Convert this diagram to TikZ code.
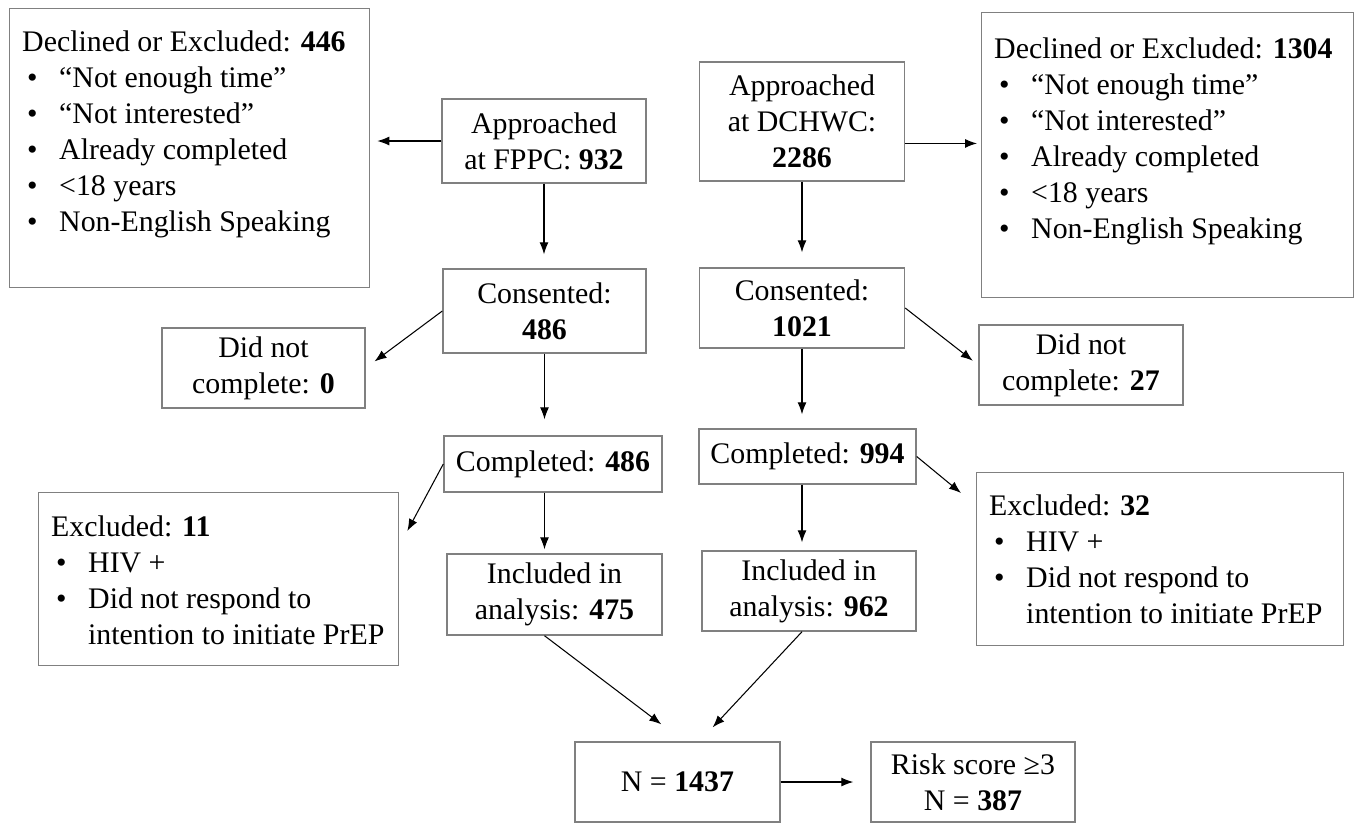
\documentclass[tikz,border=0pt]{standalone}
\usepackage{fontspec}
\setmainfont{Liberation Serif}
\usepackage{tikz}
\usetikzlibrary{arrows.meta, positioning}
\newcommand{\bitem}[1]{\makebox[0.74cm][l]{\hspace{0.1cm}\textbullet}#1}

\begin{document}
\begin{tikzpicture}[
      x=0.02cm, y=-0.02cm,
      box/.style={draw=black!50, line width=0.8pt, align=center, inner sep=0pt,
                  font=\fontsize{17}{20.5}\selectfont},
      dims/.style 2 args={minimum width=#1*0.02cm, minimum height=#2*0.02cm},
      listbox/.style={box, anchor=north west, align=left, inner xsep=0.25cm, inner ysep=0pt},
      arr/.style={-{Latex[length=0.24cm, width=0.18cm]}, line width=0.6pt}
    ]
    \useasboundingbox (0,0) rectangle (1356,823);

    \node[listbox] (declF) at (9,8) {\parbox[c][5.58cm][t]{6.7cm}{\vspace*{0.44cm}%
      Declined or Excluded: \textbf{446}\\
      \bitem{“Not enough time”}\\
      \bitem{“Not interested”}\\
      \bitem{Already completed}\\
      \bitem{<18 years}\\
      \bitem{Non-English Speaking}}};
    \node[listbox] (declD) at (981,12) {\parbox[c][5.7cm][t]{6.94cm}{\vspace*{0.5cm}%
      Declined or Excluded: \textbf{1304}\\
      \bitem{“Not enough time”}\\
      \bitem{“Not interested”}\\
      \bitem{Already completed}\\
      \bitem{<18 years}\\
      \bitem{Non-English Speaking}}};

    \node[box, dims={204}{84}] (appF) at (544,141) {Approached\\ at FPPC: \textbf{932}};
    \node[box, dims={205}{119}] (appD) at (802,121.5) {Approached\\ at DCHWC:\\ \textbf{2286}};

    \node[box, dims={203}{84}] (conF) at (544.5,311) {Consented:\\ \textbf{486}};
    \node[box, dims={205}{80}] (conD) at (802,308) {Consented:\\ \textbf{1021}};
    \node[box, dims={203}{80}] (dncL) at (263.5,368) {Did not\\ complete: \textbf{0}};
    \node[box, dims={204}{80}] (dncR) at (1081,365) {Did not\\ complete: \textbf{27}};

    \node[box, dims={218}{56}] (compF) at (553,464) {Completed: \textbf{486}};
    \node[box, dims={217}{55}] (compD) at (807.5,456.5) {Completed: \textbf{994}};

    \node[listbox] (exclL) at (38,492) {\parbox[c][3.46cm][t]{6.7cm}{\vspace*{0.46cm}%
      Excluded: \textbf{11}\\
      \bitem{HIV +}\\
      \bitem{Did not respond to}\\
      \hspace*{0.74cm}intention to initiate PrEP}};
    \node[listbox] (exclR) at (976,472) {\parbox[c][3.46cm][t]{6.84cm}{\vspace*{0.44cm}%
      Excluded: \textbf{32}\\
      \bitem{HIV +}\\
      \bitem{Did not respond to}\\
      \hspace*{0.74cm}intention to initiate PrEP}};

    \node[box, dims={215}{81}] (inclF) at (554.5,594.5) {Included in\\ analysis: \textbf{475}};
    \node[box, dims={214}{80}] (inclD) at (809,591) {Included in\\ analysis: \textbf{962}};

    \node[box, dims={205}{80}] (nTot) at (677.5,782) {N = \textbf{1437}};
    \node[box, dims={204}{80}] (risk) at (973,782) {Risk score ≥3\\ N = \textbf{387}};

    \draw[arr, shorten >=0.14cm] (appF.west) -- (appF.west -| declF.east);
    \draw[arr, shorten >=0.08cm] (appD.-12) -- (appD.-12 -| declD.west);
    \draw[arr, shorten >=0.28cm] (appF.south) -- (appF.south |- conF.north);
    \draw[arr, shorten >=0.3cm] (appD.south) -- (appD.south |- conD.north);
    \draw[arr, shorten >=0.22cm] (conF.west) -- (dncL.east);
    \draw[arr, shorten >=0.14cm] (conD.east) -- (dncR.west);
    \draw[arr, shorten >=0.32cm] (conF.south) -- (conF.south |- compF.north);
    \draw[arr, shorten >=0.28cm] (conD.south) -- (conD.south |- compD.north);
    \draw[arr] (compF.west) -- ([shift={(8,39)}]exclL.north east);
    \draw[arr] (compD.east) -- ([shift={(-15,21)}]exclR.north west);
    \draw[arr, shorten >=0.08cm] (conF.south |- compF.south) -- (conF.south |- inclF.north);
    \draw[arr, shorten >=0.16cm] (conD.south |- compD.south) -- (conD.south |- inclD.north);
    \draw[arr] (conF.south |- inclF.south) -- ([shift={(87,-17)}]nTot.north west);
    \draw[arr] (conD.south |- inclD.south) -- ([shift={(-68,-14)}]nTot.north east);
    \draw[arr, shorten >=0.34cm] (nTot.east) -- (risk.west);
  \end{tikzpicture}
\end{document}
